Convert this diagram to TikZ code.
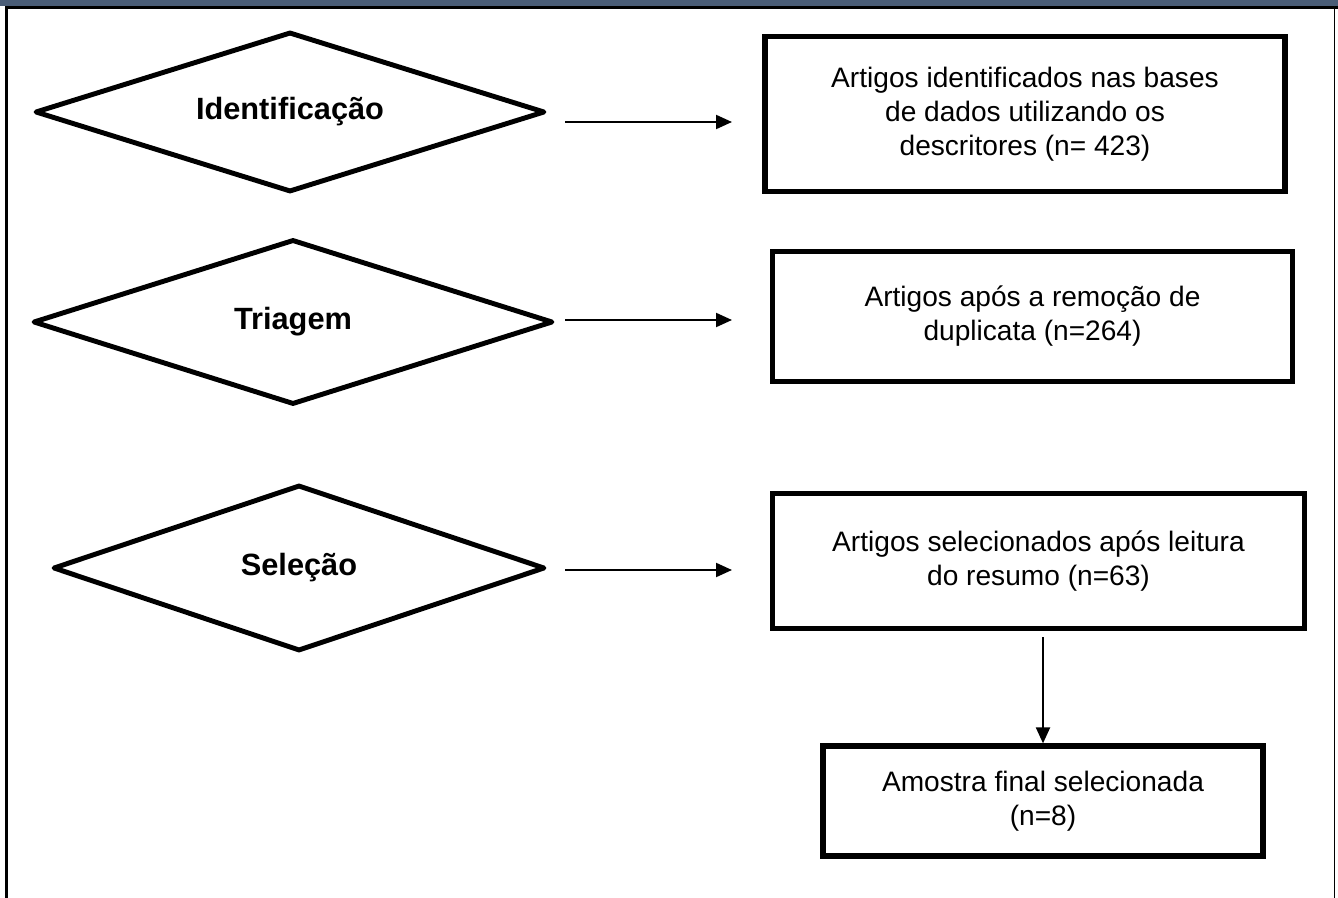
\documentclass[tikz,border=0pt]{standalone}
\usepackage{fontspec}
\setmainfont{Liberation Sans}
\usetikzlibrary{shapes.geometric,arrows.meta,positioning}
\definecolor{barblue}{HTML}{4A5D77}
\tikzset{
  stage/.style={diamond,draw,line width=2.8pt,line join=round,inner sep=0pt,
    shape aspect=3,font=\fontsize{17.5}{20}\selectfont\bfseries},
  stepbox/.style={rectangle,draw,line width=3pt,inner sep=0pt,align=center,
    font=\fontsize{16}{19.4}\selectfont},
  arr/.style={line width=1.2pt,-{Triangle[length=0.32cm,width=0.28cm]}}
}
\begin{document}
\begin{tikzpicture}[x=0.02cm,y=-0.02cm]
\useasboundingbox (0,0) rectangle (1338,898);
\fill[white] (0,0) rectangle (1338,898);
\fill[barblue] (0,0) rectangle (1338,6);
\draw[line width=2pt] (5,7.5) -- (1338,7.5);
\draw[line width=2pt] (6.5,7) -- (6.5,898);
\draw[line width=1pt] (1334.5,8) -- (1334.5,898);

\node[stage,minimum width=10.2cm,minimum height=3.2cm] (d1) at (290,112) {Identificação};
\node[stage,minimum width=10.4cm,minimum height=3.3cm] (d2) at (293,322) {Triagem};
\node[stage,minimum width=9.84cm,minimum height=3.32cm] (d3) at (299,568) {Seleção};

\node[stepbox,minimum width=10.4cm,minimum height=3.1cm] (b1) at (1025,114)
  {Artigos identificados nas bases\\de dados utilizando os\\descritores (n= 423)};
\node[stepbox,minimum width=10.4cm,minimum height=2.6cm] (b2) at (1032.5,316.5)
  {Artigos após a remoção de\\duplicata (n=264)};
\node[stepbox,minimum width=10.64cm,minimum height=2.7cm] (b3) at (1038.5,561)
  {Artigos selecionados após leitura\\do resumo (n=63)};
\node[stepbox,minimum width=8.8cm,minimum height=2.2cm] (b4) at (1043,801)
  {Amostra final selecionada\\(n=8)};

\coordinate (a1s) at (565,122);
\coordinate (a1e) at (732,122);
\coordinate (a2s) at (565,320);
\coordinate (a2e) at (732,320);
\coordinate (a3s) at (565,570);
\coordinate (a3e) at (732,570);
\draw[arr] (a1s) -- (a1e);
\draw[arr] (a2s) -- (a2e);
\draw[arr] (a3s) -- (a3e);
\draw[arr,shorten <=0.12cm] (b3.south -| b4.north) -- (b4.north);
\end{tikzpicture}
\end{document}
